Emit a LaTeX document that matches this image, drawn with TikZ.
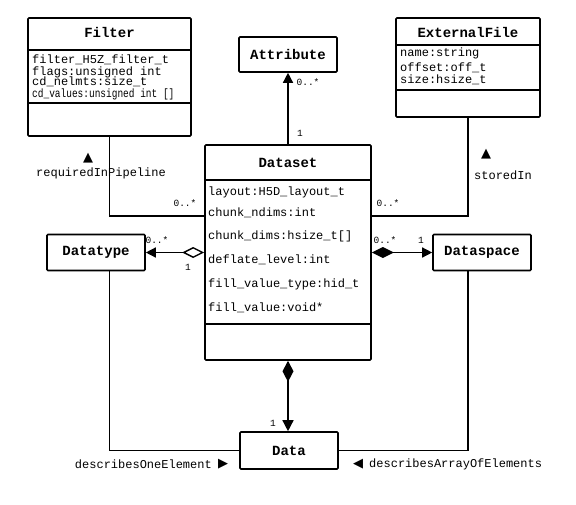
\documentclass[tikz,border=0pt]{standalone}
\usepackage{fontspec}
\setmainfont{Liberation Mono}
\newfontfamily\symfont{DejaVu Sans}
\usepackage{graphicx}
\usetikzlibrary{arrows.meta}

\tikzset{
  classbox/.style={draw, line width=1.6pt, rounded corners=1pt, inner sep=0pt},
  classname/.style={font=\fontsize{14}{14}\selectfont\bfseries, inner sep=0pt},
  attr/.style={font=\fontsize{12}{12}\selectfont, anchor=west, inner sep=0pt},
  sepline/.style={line width=2.6pt},
  assoc/.style={line width=1.4pt},
  mult/.style={font=\fontsize{9.5}{9.5}\selectfont, inner sep=0pt},
  rolelabel/.style={font=\fontsize{12}{12}\selectfont, inner sep=0pt},
  tip/.style={font=\fontsize{13}{13}\selectfont\symfont, inner sep=0pt}
}

\begin{document}
\begin{tikzpicture}[x=1pt,y=-1pt]
\useasboundingbox (0,0) rectangle (576,504);

% class boxes
\node[classbox, minimum width=163pt, minimum height=118pt] (filter) at (109.5,77) {};
\node[classbox, minimum width=98pt, minimum height=35pt] (attribute) at (288,54.5) {};
\node[classbox, minimum width=144pt, minimum height=99pt] (extfile) at (468,67.5) {};
\node[classbox, minimum width=166pt, minimum height=215pt] (dataset) at (288,252.5) {};
\node[classbox, minimum width=98pt, minimum height=36pt] (datatype) at (96,252.5) {};
\node[classbox, minimum width=98pt, minimum height=36pt] (dataspace) at (482,252.5) {};
\node[classbox, minimum width=98pt, minimum height=37pt] (data) at (289,450.5) {};

% compartments
\draw[sepline] (filter.west |- 0,50) -- (filter.east |- 0,50);
\draw[sepline] (filter.west |- 0,103) -- (filter.east |- 0,103);
\draw[sepline] (extfile.west |- 0,45) -- (extfile.east |- 0,45);
\draw[sepline] (extfile.west |- 0,90) -- (extfile.east |- 0,90);
\draw[sepline] (dataset.west |- 0,180) -- (dataset.east |- 0,180);
\draw[sepline] (dataset.west |- 0,324) -- (dataset.east |- 0,324);

% names
\node[classname] (filtername) at (109.5,32) {Filter};
\node[classname] (attrname) at (attribute.center) {Attribute};
\node[classname] (extname) at (468,32) {ExternalFile};
\node[classname] (dsname) at (288,163) {Dataset};
\node[classname] (dtname) at (datatype.center) {Datatype};
\node[classname] (dspname) at (dataspace.center) {Dataspace};
\node[classname] (dataname) at (data.center) {Data};

% attributes
\node[attr] (f1) at (32,60) {filter\_H5Z\_filter\_t};
\node[attr] (f2) at (32,72) {flags:unsigned int};
\node[attr] (f3) at (32,82) {cd\_nelmts:size\_t};
\node[attr] (f4) at (32,94) {\scalebox{0.79}[1]{cd\_values:unsigned int []}};

\node[attr] (e1) at (400,53) {name:string};
\node[attr] (e2) at (400,68) {offset:off\_t};
\node[attr] (e3) at (400,80) {size:hsize\_t};

\node[attr] (d1) at (208,192) {layout:H5D\_layout\_t};
\node[attr] (d2) at (208,213) {chunk\_ndims:int};
\node[attr] (d3) at (208,236) {chunk\_dims:hsize\_t[]};
\node[attr] (d4) at (208,260) {deflate\_level:int};
\node[attr] (d5) at (208,284) {fill\_value\_type:hid\_t};
\node[attr] (d6) at (208,308) {fill\_value:void*};

% connectors
\coordinate (dsfilter) at (dataset.west |- 0,216);
\coordinate (dsext) at (dataset.east |- 0,216);
\draw[assoc, -{Triangle[length=10pt,width=10pt]}] (dataset.north) -- (attribute.south);
\draw[assoc] (filter.south) |- (dsfilter);
\draw[assoc] (extfile.south) |- (dsext);
\draw[assoc, {Diamond[open,length=22pt,width=11pt]}-{Triangle[length=10pt,width=10pt]}] (dataset.west) -- (datatype.east);
\draw[assoc, {Diamond[length=22pt,width=11pt]}-{Triangle[length=10pt,width=10pt]}] (dataset.east) -- (dataspace.west);
\draw[assoc, {Diamond[length=21pt,width=11pt]}-{Triangle[length=11pt,width=11pt]}] (dataset.south) -- (dataset.south |- data.north);
\draw[assoc] (filter.south |- datatype.south) |- (data.west);
\draw[assoc] (extfile.south |- dataspace.south) |- (data.east);

% multiplicities
\node[mult] (m1) at (308,82) {0..*};
\node[mult] (m2) at (300,133) {1};
\node[mult] (m3) at (185,203) {0..*};
\node[mult] (m4) at (388,203) {0..*};
\node[mult] (m5) at (157,240) {0..*};
\node[mult] (m6) at (188,267) {1};
\node[mult] (m7) at (385,240) {0..*};
\node[mult] (m8) at (421,240) {1};
\node[mult] (m9) at (273,423) {1};

% association names
\node[tip] (t1) at (88,158) {▲};
\node[rolelabel] (r1) at (101,173) {requiredInPipeline};
\node[tip] (t2) at (486,154) {▲};
\node[rolelabel] (r2) at (503,175) {storedIn};
\node[rolelabel, anchor=east] (r3) at (212,464) {describesOneElement};
\node[tip] (t3) at (223,464) {▶};
\node[tip] (t4) at (358,464) {◀};
\node[rolelabel, anchor=west] (r4) at (369,464) {describesArrayOfElements};

\end{tikzpicture}
\end{document}
